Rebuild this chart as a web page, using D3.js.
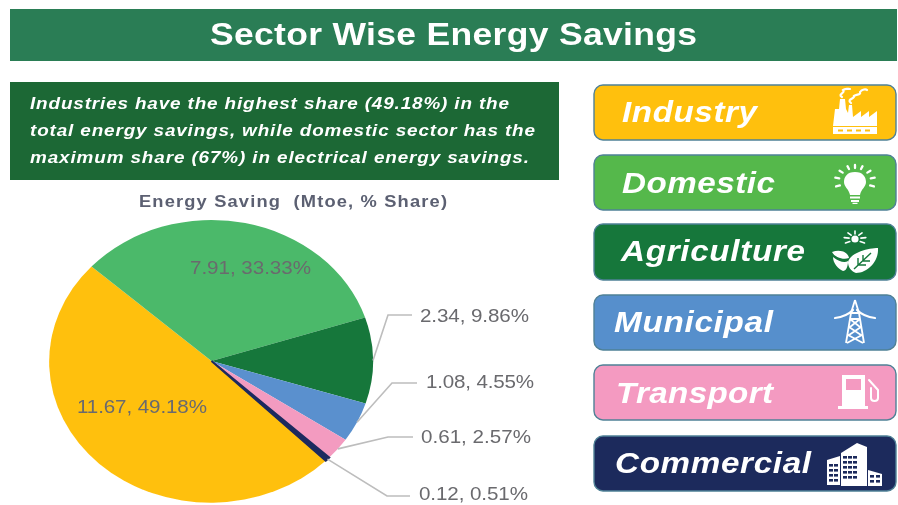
<!DOCTYPE html>
<html>
<head>
<meta charset="utf-8">
<script src="https://cdn.jsdelivr.net/npm/d3@7/dist/d3.min.js"></script>
<style>
html,body{margin:0;padding:0;background:#fff;overflow:hidden}
svg{display:block}
text{font-family:"Liberation Sans",Arial,sans-serif}
</style>
</head>
<body>
<svg id="c" width="898" height="505"></svg>
<script>
// ---- data ----
const categories = ["Industry","Domestic","Agriculture","Municipal","Transport","Commercial"];
const mtoe   = [11.67, 7.91, 2.34, 1.08, 0.61, 0.12];
const shares = [49.18, 33.33, 9.86, 4.55, 2.57, 0.51];
const colors = ["#FFC010","#4CB96A","#13773A","#5A90CE","#F39BC0","#1F2A5E"];
const legendColors = ["#FFC010","#55B84C","#13773A","#578FCC","#F49AC1","#1E2A5C"];
const titleText = "Sector Wise Energy Savings";
const chartTitle = "Energy Saving  (Mtoe, % Share)";
const noteLines = [
  "Industries have the highest share (49.18%) in the",
  "total energy savings, while domestic sector has the",
  "maximum share (67%) in electrical energy savings."
];

// ---- layout ----
const W = 898, H = 505;
const stretch = 1.145; // the picture is wider than it is tall by this factor
const pieC = {x:211.5, y:361, rx:161.5, ry:141};
const labelLayout = [
  {x:77,  y:413, w:130},
  {x:190, y:274, w:121},
  {x:420, y:322, w:109, elbow:[388,315], end:[412,315]},
  {x:426, y:388, w:108, elbow:[392,383], end:[417,383]},
  {x:421, y:443, w:110, elbow:[388,437], end:[413,437]},
  {x:419, y:500, w:109, elbow:[387,496], end:[410,496]}
];
const legendLayout = [
  {top:85,  h:55, tx:622, ty:122, tw:135},
  {top:155, h:55, tx:622, ty:193, tw:153},
  {top:224, h:56, tx:621, ty:261, tw:184},
  {top:295, h:55, tx:614, ty:332, tw:159},
  {top:365, h:55, tx:616, ty:403, tw:157},
  {top:436, h:55, tx:615, ty:473, tw:196}
];
const iconCenters = [[855,111],[855,184],[855,252],[855,322],[859,392],[855,464]];

const svg = d3.select("#c");
const defs = svg.append("defs");
defs.append("filter").attr("id","soft").attr("x","-5%").attr("y","-5%").attr("width","110%").attr("height","110%")
  .append("feGaussianBlur").attr("stdDeviation",0.45);
const root = svg.append("g").attr("filter","url(#soft)");

// text stretched horizontally like the picture; x,y,w are final pixels
function put(parent,str,x,y,w,size,fill,bold,italic){
  return parent.append("text")
    .attr("transform",`translate(${x},${y}) scale(${stretch},1)`)
    .attr("font-size",size).attr("fill",fill)
    .attr("font-weight",bold?"bold":"normal").attr("font-style",italic?"italic":"normal")
    .attr("textLength",w/stretch).attr("lengthAdjust","spacing")
    .style("white-space","pre").text(str);
}

// header
root.append("rect").attr("x",10).attr("y",9).attr("width",887).attr("height",52).attr("fill","#2A7D54");
put(root,titleText,210,45,487,31,"#fff",true,false);

// note
root.append("rect").attr("x",10).attr("y",82).attr("width",549).attr("height",98).attr("fill","#1A6734");
const noteW = [479,505,499];
noteLines.forEach((t,i)=>put(root,t,30,109+i*27,noteW[i],16.5,"#fff",true,true));

// chart title
put(root,chartTitle,139,207,308,16,"#5B6072",true,false);

// pie
const deg = Math.PI/180;
const pie = d3.pie().sort(null).value(d=>d).startAngle(135*deg).endAngle(495*deg);
const arcs = pie(shares);
const arc = d3.arc().innerRadius(0).outerRadius(1);
const sx = d3.scaleLinear().domain([-1,1]).range([pieC.x-pieC.rx,pieC.x+pieC.rx]);
const sy = d3.scaleLinear().domain([-1,1]).range([pieC.y-pieC.ry,pieC.y+pieC.ry]);
root.append("g")
  .attr("transform",`translate(${pieC.x},${pieC.y}) scale(${pieC.rx},${pieC.ry})`)
  .selectAll("path").data(arcs).join("path")
  .attr("d",arc).attr("fill",(d,i)=>colors[i])
  .attr("stroke",(d,i)=>i===5?colors[i]:"none")
  .attr("stroke-width",(d,i)=>i===5?2:0)
  .attr("vector-effect","non-scaling-stroke");

// leader lines
const line = d3.line();
root.append("g").selectAll("path").data(arcs).join("path")
  .filter((d,i)=>labelLayout[i].elbow)
  .attr("d",d=>{
    const l = labelLayout[d.index];
    const m = (d.startAngle+d.endAngle)/2;
    return line([[sx(Math.sin(m)),sy(-Math.cos(m))],l.elbow,l.end]);
  })
  .attr("fill","none").attr("stroke","#BDBDBD").attr("stroke-width",1.6);

// labels
categories.forEach((c,i)=>{
  const l = labelLayout[i];
  put(root,`${mtoe[i].toFixed(2)}, ${shares[i].toFixed(2)}%`,l.x,l.y,l.w,18,"#6A6A6E",false,false);
});

// legend buttons
categories.forEach((c,i)=>{
  const l = legendLayout[i];
  root.append("rect").attr("x",594).attr("y",l.top).attr("width",302).attr("height",l.h).attr("rx",9)
    .attr("fill",legendColors[i]).attr("stroke","#4F8196").attr("stroke-width",1.4);
  put(root,c,l.tx,l.ty,l.tw,29,"#fff",true,true);
});

// icons
const iconDrawers = {
  Industry(g){
    g.append("path").attr("fill","#fff").attr("d",
      "M-22,15 L-20,-2 L-16,-2 L-15,-12 L-10,-12 L-9,-2 L-7,2 L-6,-6 L-3,-6 L-2,6 L6,0 L6,6 L14,0 L14,6 L22,0 L22,15 Z M-22,16 H22 V23 H-22 Z");
    g.append("g").attr("fill","#FFC010").selectAll("rect").data([-17,-8,1,10]).join("rect")
      .attr("x",d=>d).attr("y",18.5).attr("width",5).attr("height",2);
    g.append("path").attr("fill","none").attr("stroke","#fff").attr("stroke-width",2.2).attr("stroke-linecap","round")
      .attr("d","M-13,-14 C-18,-17 -9,-18 -12,-21 C-10,-23 -7,-22 -5,-22 M-4,-8 C-9,-12 0,-12 -1,-15 C2,-17 6,-16 5,-19 C7,-22 11,-22 12,-21");
  },
  Domestic(g){
    g.append("path").attr("fill","#fff").attr("d",
      "M0,-12 C-8,-12 -11,-7 -11,-2 C-11,3 -6,5 -5,11 H5 C6,5 11,3 11,-2 C11,-7 8,-12 0,-12 Z M-5,12.5 H5 V14.5 H-5 Z M-4,16 H4 V18 H-4 Z M-2.5,18.8 H2.5 V20 H-2.5 Z");
    g.append("g").attr("stroke","#fff").attr("stroke-width",2.3).attr("stroke-linecap","round")
      .selectAll("line").data([-110,-78,-50,-22,0,22,50,78,110]).join("line")
      .attr("x1",d=>Math.sin(d*deg)*14*1.15).attr("y1",d=>-Math.cos(d*deg)*13-3)
      .attr("x2",d=>Math.sin(d*deg)*17.5*1.15).attr("y2",d=>-Math.cos(d*deg)*16-3);
  },
  Agriculture(g){
    g.append("circle").attr("cx",0).attr("cy",-13).attr("r",3.6).attr("fill","#fff");
    g.append("g").attr("stroke","#fff").attr("stroke-width",1.6).attr("stroke-linecap","round")
      .selectAll("line").data([-120,-80,-40,0,40,80,120]).join("line")
      .attr("x1",d=>Math.sin(d*deg)*6).attr("y1",d=>-Math.cos(d*deg)*5-13)
      .attr("x2",d=>Math.sin(d*deg)*11).attr("y2",d=>-Math.cos(d*deg)*8-13);
    g.append("path").attr("fill","#fff").attr("d",
      "M-23,0 C-15,-3 -7,0 -6,6 C-11,8 -20,6 -23,0 Z M-22,5 C-16,10 -10,11 -7,9 C-7,15 -9,19 -12,19 C-17,17 -22,11 -22,5 Z M23,-4 C14,-4 -4,0 -7,10 C-7,15 -4,19 1,21 C12,21 24,10 23,-4 Z");
    g.append("path").attr("fill","none").attr("stroke","#13773A").attr("stroke-width",1.4)
      .attr("d","M16,1 L-1,17 M8,9 V3 M8,9 H15 M3,13 V6 M3,13 H11");
  },
  Municipal(g){
    g.append("path").attr("fill","none").attr("stroke","#fff").attr("stroke-width",1.8).attr("stroke-linejoin","round")
      .attr("d","M0,-22 L-4,-9 L-9,21 M0,-22 L4,-9 L9,21 M-4,-9 H4 M-5,-3 H5 M-6,5 L6,13 M6,5 L-6,13 M-5,-3 L5,5 M5,-3 L-5,5 M-7,13 L8,21 M7,13 L-8,21");
    g.append("path").attr("fill","none").attr("stroke","#fff").attr("stroke-width",2.2).attr("stroke-linecap","round")
      .attr("d","M-20,-4 C-12,-5 -6,-8 -2,-12 M20,-4 C12,-5 6,-8 2,-12");
  },
  Transport(g){
    g.append("path").attr("fill","#fff").attr("fill-rule","evenodd").attr("d",
      "M-17,-17 H6 V14 H9 V17 H-21 V14 H-17 Z M-13,-13 V-2 H2 V-13 Z");
    g.append("path").attr("fill","none").attr("stroke","#fff").attr("stroke-width",2).attr("stroke-linecap","round").attr("stroke-linejoin","round")
      .attr("d","M10,-12 L19,-2 V6 C19,10 12,10 12,6 V-4");
  },
  Commercial(g){
    g.append("path").attr("fill","#fff").attr("d",
      "M-14,-11 L2,-21 L12,-17 V22 H-14 Z M-28,-4 L-15,-8 V21 H-28 Z M13,6 L27,10 V22 H13 Z");
    const win = [];
    [-8,-3,2,7,12].forEach(y=>[-12,-7,-2].forEach(x=>win.push([x,y])));
    [0,5,10,15].forEach(y=>[-26,-21].forEach(x=>win.push([x,y])));
    [11,16].forEach(y=>[15,21].forEach(x=>win.push([x,y])));
    g.append("g").attr("fill","#1E2A5C").selectAll("rect").data(win).join("rect")
      .attr("x",d=>d[0]).attr("y",d=>d[1]).attr("width",4).attr("height",2.6);
  }
};
categories.forEach((c,i)=>{
  const g = root.append("g").attr("transform",`translate(${iconCenters[i][0]},${iconCenters[i][1]})`);
  iconDrawers[c](g);
});
</script>
</body>
</html>
